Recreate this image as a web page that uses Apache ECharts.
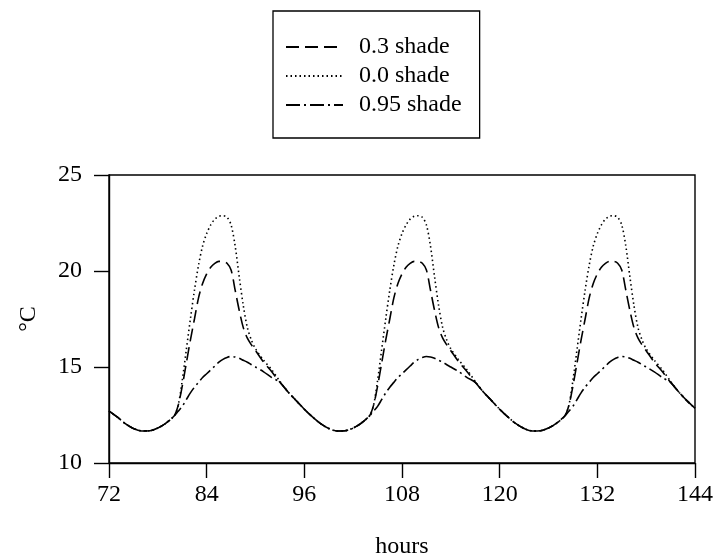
<!DOCTYPE html>
<html><head><meta charset="utf-8">
<script src="https://cdn.jsdelivr.net/npm/echarts@6/dist/echarts.min.js"></script>
<style>html,body{margin:0;padding:0;background:#fff}#c{width:715px;height:560px}</style>
</head><body><div id="c"></div>
<script>
const hours = [
 72,73,74,75,76,77,78,79,80,80.5,81,81.5,82,82.5,83,83.5,84,84.5,85,85.5,86,86.5,87,87.5,88,88.5,89,89.5,90,91,92,93,94,95,
 96,97,98,99,100,101,102,103,104,104.5,105,105.5,106,106.5,107,107.5,108,108.5,109,109.5,110,110.5,111,111.5,112,112.5,113,113.5,114,115,116,117,118,119,
 120,121,122,123,124,125,126,127,128,128.5,129,129.5,130,130.5,131,131.5,132,132.5,133,133.5,134,134.5,135,135.5,136,136.5,137,137.5,138,139,140,141,142,143,
 144];
const shade03 = [
 12.7,12.4,12.05,11.8,11.67,11.68,11.82,12.08,12.45,13.0,14.0,15.2,16.4,17.5,18.6,19.35,19.85,20.2,20.4,20.5,20.5,20.4,20.05,19.0,17.95,17.05,16.5,16.15,15.85,15.25,14.75,14.2,13.7,13.25,
 12.8,12.4,12.05,11.8,11.67,11.68,11.82,12.08,12.45,13.0,14.0,15.2,16.4,17.5,18.6,19.35,19.85,20.2,20.4,20.5,20.5,20.4,20.05,19.0,17.95,17.05,16.5,16.15,15.85,15.25,14.75,14.2,13.7,13.25,
 12.8,12.4,12.05,11.8,11.67,11.68,11.82,12.08,12.45,13.0,14.0,15.2,16.4,17.5,18.6,19.35,19.85,20.2,20.4,20.5,20.5,20.4,20.05,19.0,17.95,17.05,16.5,16.15,15.85,15.25,14.75,14.2,13.7,13.25,
 12.85];
const shade00 = [
 12.7,12.4,12.05,11.8,11.67,11.68,11.82,12.08,12.45,13.0,14.3,15.9,17.5,19.0,20.3,21.3,21.95,22.4,22.7,22.85,22.88,22.8,22.4,21.3,19.7,18.2,17.05,16.4,15.95,15.35,14.85,14.25,13.7,13.25,
 12.8,12.4,12.05,11.8,11.67,11.68,11.82,12.08,12.45,13.0,14.3,15.9,17.5,19.0,20.3,21.3,21.95,22.4,22.7,22.85,22.88,22.8,22.4,21.3,19.7,18.2,17.05,16.4,15.95,15.35,14.85,14.25,13.7,13.25,
 12.8,12.4,12.05,11.8,11.67,11.68,11.82,12.08,12.45,13.0,14.3,15.9,17.5,19.0,20.3,21.3,21.95,22.4,22.7,22.85,22.88,22.8,22.4,21.3,19.7,18.2,17.05,16.4,15.95,15.35,14.85,14.25,13.7,13.25,
 12.85];
const shade095 = [
 12.7,12.4,12.05,11.8,11.67,11.68,11.82,12.08,12.45,12.7,12.95,13.3,13.65,13.95,14.2,14.45,14.65,14.85,15.05,15.25,15.4,15.5,15.55,15.52,15.45,15.35,15.25,15.12,15.0,14.75,14.45,14.2,13.7,13.25,
 12.8,12.4,12.05,11.8,11.67,11.68,11.82,12.08,12.45,12.7,12.95,13.3,13.65,13.95,14.2,14.45,14.65,14.85,15.05,15.25,15.4,15.5,15.55,15.52,15.45,15.35,15.25,15.12,15.0,14.75,14.45,14.2,13.7,13.25,
 12.8,12.4,12.05,11.8,11.67,11.68,11.82,12.08,12.45,12.7,12.95,13.3,13.65,13.95,14.2,14.45,14.65,14.85,15.05,15.25,15.4,15.5,15.55,15.52,15.45,15.35,15.25,15.12,15.0,14.75,14.45,14.2,13.7,13.25,
 12.85];
const seriesNames = ['0.3 shade','0.0 shade','0.95 shade'];
const xTicks = [72,84,96,108,120,132,144];
const yTicks = [10,15,20,25];

const FONT = 'Liberation Serif';
const pairs = v => hours.map((h,i)=>[h,v[i]]);
const chart = echarts.init(document.getElementById('c'), null, {renderer:'canvas'});
const mk = (name, vals, dash) => ({
  name, type:'line', data:pairs(vals), showSymbol:false, symbol:'none', smooth:0.3,
  lineStyle:{color:'#000', width:1.6, type:dash}, itemStyle:{color:'#000'}, animation:false
});
chart.setOption({
  animation:false,
  backgroundColor:'#fff',
  legend:{
    left:273, top:11, orient:'vertical',
    borderColor:'#000', borderWidth:1.3,
    padding:[24,18,21,12],
    itemWidth:57, itemHeight:24, itemGap:5,
    itemStyle:{opacity:0},
    textStyle:{fontFamily:FONT, fontSize:24, color:'#000', lineHeight:24, padding:[0,0,0,11]},
    data:seriesNames
  },
  grid:{left:109, right:20, top:175, bottom:97, show:true, borderColor:'#000', borderWidth:1.4,
        containLabel:false, outerBoundsMode:'none'},
  xAxis:{
    type:'value', min:xTicks[0], max:xTicks[xTicks.length-1], interval:12,
    name:'hours', nameLocation:'middle', nameGap:72,
    nameTextStyle:{fontFamily:FONT, fontSize:24, color:'#000'},
    axisLine:{show:true, lineStyle:{color:'#000', width:1.4}},
    axisTick:{show:true, length:15, inside:false, lineStyle:{color:'#000', width:1.4}},
    axisLabel:{fontFamily:FONT, fontSize:24, color:'#000', margin:20},
    splitLine:{show:false}
  },
  yAxis:{
    type:'value', min:yTicks[0], max:yTicks[yTicks.length-1], interval:5,
    name:'°C', nameLocation:'middle', nameGap:68, nameRotate:90,
    nameTextStyle:{fontFamily:FONT, fontSize:24, color:'#000'},
    axisLine:{show:true, lineStyle:{color:'#000', width:1.4}},
    axisTick:{show:true, length:15, inside:false, lineStyle:{color:'#000', width:1.4}},
    axisLabel:{fontFamily:FONT, fontSize:24, color:'#000', margin:27},
    splitLine:{show:false}
  },
  series:[
    mk(seriesNames[0], shade03, [13,6]),
    mk(seriesNames[1], shade00, [1.5,3]),
    mk(seriesNames[2], shade095, [14,4,2,4])
  ]
});
</script></body></html>
